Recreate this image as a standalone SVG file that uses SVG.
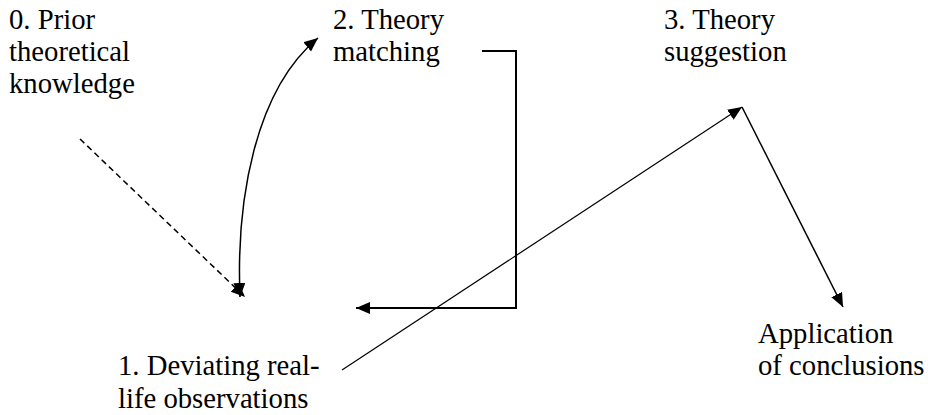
<svg xmlns="http://www.w3.org/2000/svg" width="928" height="415" viewBox="0 0 928 415">
<style>
  text { font-family: 'Liberation Serif', 'Times New Roman', Times, 'DejaVu Serif', serif; font-size: 28.7px; fill: #000; }
  .c { fill: none; stroke: #000; stroke-width: 1.5; }
  .thin { stroke-width: 1.2; }
  .thick { stroke-width: 2; }
  .dash { stroke-dasharray: 6 4; }
</style>
<defs>
  <marker id="ah" markerUnits="userSpaceOnUse" markerWidth="15" markerHeight="13" refX="14" refY="6" orient="auto-start-reverse">
    <path d="M0,0 L14,6 L0,12 z" fill="#000"/>
  </marker>
</defs>
<rect width="928" height="415" fill="#fff"/>
<g id="connectors">
  <line class="c dash" x1="80" y1="139" x2="245" y2="297" marker-end="url(#ah)"/>
  <path class="c" d="M240,297 C236,200 255,90 318,38" marker-start="url(#ah)" marker-end="url(#ah)"/>
  <path class="c thick" d="M482,51 L516,51 L516,308 L356,308" marker-end="url(#ah)"/>
  <line class="c thin" x1="342" y1="370" x2="742" y2="107" marker-end="url(#ah)"/>
  <line class="c" x1="742" y1="107" x2="843" y2="307" marker-end="url(#ah)"/>
</g>
<g id="n0"><text x="9" y="29">0. Prior</text><text x="9" y="61">theoretical</text><text x="9" y="93">knowledge</text></g>
<g id="n1"><text x="118" y="375">1. Deviating real-</text><text x="118" y="408">life observations</text></g>
<g id="n2"><text x="333" y="29">2. Theory</text><text x="333" y="61">matching</text></g>
<g id="n3"><text x="664" y="29">3. Theory</text><text x="664" y="61">suggestion</text></g>
<g id="n4"><text x="758" y="343">Application</text><text x="758" y="375">of conclusions</text></g>
</svg>
